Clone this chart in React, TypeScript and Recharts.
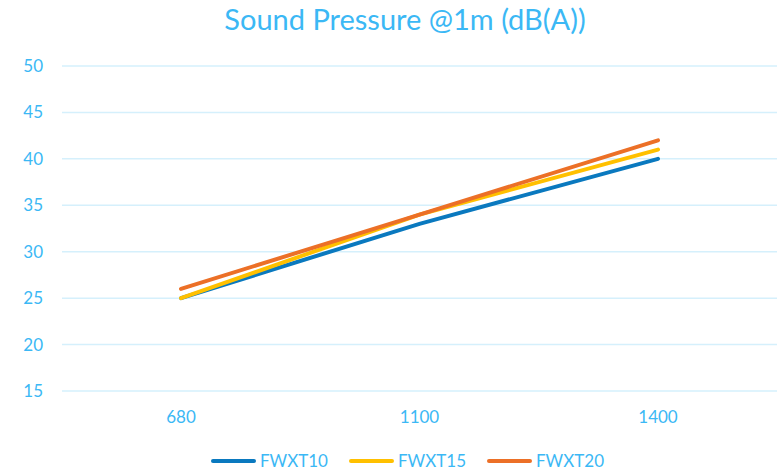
import React from 'react';
import { LineChart, Line, XAxis, YAxis, CartesianGrid } from 'recharts';

const categories = ['680', '1100', '1400'];
const fwxt10 = [25, 33, 40];
const fwxt15 = [25, 34, 41];
const fwxt20 = [26, 34, 42];
const yTicks = [15, 20, 25, 30, 35, 40, 45, 50];

const seriesDefs = [
  { key: 'FWXT10', color: '#0A79BF' },
  { key: 'FWXT15', color: '#FFC000' },
  { key: 'FWXT20', color: '#EC7027' },
];

const data = categories.map((c, i) => ({
  cat: c,
  FWXT10: fwxt10[i],
  FWXT15: fwxt15[i],
  FWXT20: fwxt20[i],
}));

const TEXT = '#3BB8F5';
const FONT = 'Lato, "Open Sans", sans-serif';

const LegendContent = () => (
  <div style={{ display: 'flex', justifyContent: 'center', alignItems: 'center', fontFamily: FONT, fontSize: 17, color: TEXT }}>
    {seriesDefs.map((s, i) => (
      <div key={s.key} style={{ display: 'flex', alignItems: 'center', marginLeft: i === 0 ? 0 : 20 }}>
        <svg width={47} height={8} style={{ marginRight: 3 }}>
          <line x1={3} y1={4} x2={44} y2={4} stroke={s.color} strokeWidth={4} strokeLinecap="round" />
        </svg>
        <span>{s.key}</span>
      </div>
    ))}
  </div>
);

export default function App() {
  return (
    <div style={{ position: 'absolute', left: 0, top: 0, width: 782, height: 473, background: '#fff' }}>
      <div style={{ position: 'absolute', left: 0, top: 1, width: 810, textAlign: 'center', fontFamily: FONT, fontSize: 29, color: TEXT }}>
        Sound Pressure @1m (dB(A))
      </div>
      <LineChart width={782} height={473} data={data} margin={{ top: 66, right: 5, left: 0, bottom: 52 }}>
        <CartesianGrid horizontal vertical={false} stroke="#D5F0FC" strokeWidth={1.5} />
        <XAxis
          dataKey="cat"
          height={30}
          axisLine={false}
          tickLine={false}
          tickSize={0}
          tickMargin={20}
          padding={{ left: 119, right: 119 }}
          tick={{ fill: TEXT, fontSize: 17, fontFamily: FONT }}
        />
        <YAxis
          domain={[15, 50]}
          ticks={yTicks}
          width={62}
          axisLine={false}
          tickLine={false}
          tickSize={0}
          tickMargin={19}
          tick={{ fill: TEXT, fontSize: 17, fontFamily: FONT }}
        />
        {seriesDefs.map((s) => (
          <Line
            key={s.key}
            dataKey={s.key}
            stroke={s.color}
            strokeWidth={4}
            strokeLinecap="round"
            dot={false}
            activeDot={false}
            isAnimationActive={false}
          />
        ))}
      </LineChart>
      <div style={{ position: 'absolute', left: 16, top: 450, width: 782 }}>
        <LegendContent />
      </div>
    </div>
  );
}
